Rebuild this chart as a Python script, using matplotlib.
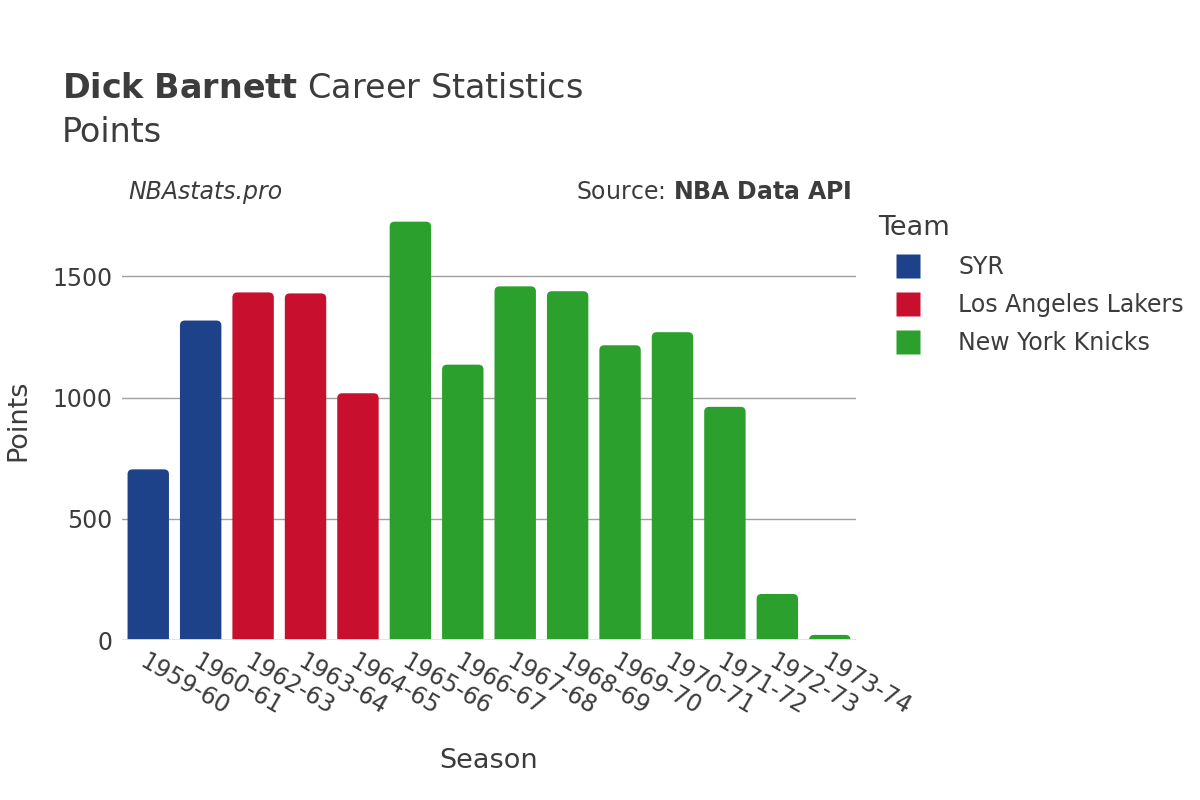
import matplotlib.pyplot as plt
from matplotlib.patches import FancyBboxPatch
from matplotlib.lines import Line2D

seasons = ["1959-60", "1960-61", "1962-63", "1963-64", "1964-65", "1965-66", "1966-67",
           "1967-68", "1968-69", "1969-70", "1970-71", "1971-72", "1972-73", "1973-74"]
points = [704, 1318, 1434, 1430, 1018, 1726, 1136, 1459, 1439, 1216, 1270, 962, 190, 21]
teams = ["SYR", "SYR", "Los Angeles Lakers", "Los Angeles Lakers", "Los Angeles Lakers",
         "New York Knicks", "New York Knicks", "New York Knicks", "New York Knicks",
         "New York Knicks", "New York Knicks", "New York Knicks", "New York Knicks",
         "New York Knicks"]
team_names = ["SYR", "Los Angeles Lakers", "New York Knicks"]
team_colors = {"SYR": "#1d428a", "Los Angeles Lakers": "#c8102e", "New York Knicks": "#2ca02c"}

txt = "#3c3c3c"
fig = plt.figure(figsize=(12, 8), dpi=100)
ax = fig.add_axes([0.1017, 0.2, 0.6116, 0.549])
ymax = 1812
ax.set_xlim(-0.5, len(seasons) - 0.5)
ax.set_ylim(0, ymax)

bars = ax.bar(range(len(seasons)), points, width=0.79,
              color=[team_colors[t] for t in teams], zorder=2)
# swap plain bars for ones with rounded tops
px_x = 734 / len(seasons)          # pixels per x unit
px_y = 439 / ymax                  # pixels per y unit
aspect = px_x / px_y
r = 5 / px_x
for b in bars:
    b.set_visible(False)
    p = FancyBboxPatch((b.get_x(), -r * aspect), b.get_width(), b.get_height() + r * aspect,
                       boxstyle="round,pad=0,rounding_size=%f" % r,
                       mutation_aspect=aspect, facecolor=b.get_facecolor(),
                       edgecolor="none", zorder=2)
    ax.add_patch(p)

ax.set_yticks([0, 500, 1000, 1500])
ax.yaxis.grid(True, color="#a0a0a0", linewidth=1, zorder=0)
ax.axhline(0, color="#e5e5e5", linewidth=2, zorder=3)
for s in ax.spines.values():
    s.set_visible(False)
ax.tick_params(length=0, labelsize=17, labelcolor=txt, pad=7)
ax.set_xticks(range(len(seasons)))
ax.set_xticklabels(seasons, rotation=-30, ha="left", va="top", rotation_mode="anchor")

ax.set_xlabel("Season", fontsize=19.5, color=txt, labelpad=20)
ax.set_ylabel("Points", fontsize=19.5, color=txt)
ax.yaxis.set_label_coords((31 - 122) / 734, 0.5)

fig.text(62 / 1200, 1 - 88 / 800, r"$\bf{Dick\ Barnett}$ Career Statistics",
         fontsize=24, color=txt, va="center")
fig.text(62 / 1200, 1 - 132 / 800, "Points", fontsize=24, color=txt, va="center")
fig.text(128 / 1200, 1 - 192 / 800, "NBAstats.pro", fontsize=17, style="italic",
         color=txt, va="center")
fig.text(852 / 1200, 1 - 192 / 800, r"Source: $\bf{NBA\ Data\ API}$", fontsize=17,
         color=txt, va="center", ha="right")

handles = [Line2D([0], [0], marker="s", linestyle="none", markersize=17,
                  markerfacecolor=team_colors[t], markeredgecolor="none") for t in team_names]
leg = fig.legend(handles, team_names, loc="upper left", bbox_to_anchor=(0.714, 0.758),
                 frameon=False, fontsize=17, title="Team", title_fontsize=19.5,
                 labelspacing=0.6, handletextpad=0.9, handlelength=2.5, alignment="left")
for t in leg.get_texts():
    t.set_color(txt)
leg.get_title().set_color(txt)

fig.savefig("out.png", dpi=100)
